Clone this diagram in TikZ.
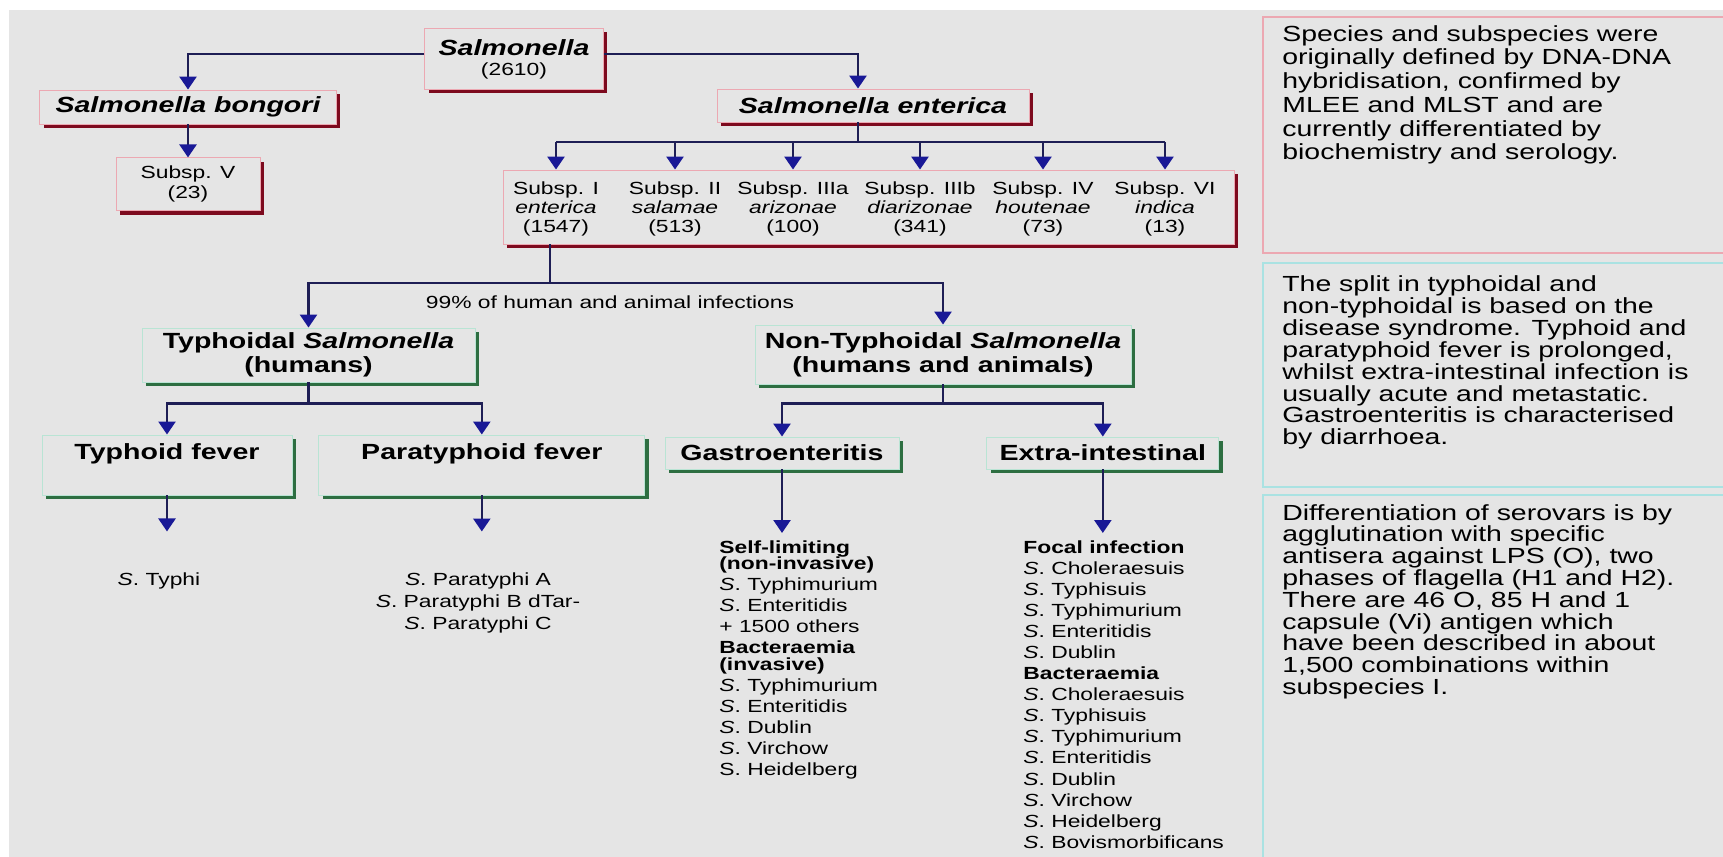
\documentclass[tikz,border=0pt]{standalone}
\usepackage{fontspec}
\setmainfont{Liberation Sans}[FakeStretch=1.3]
\usetikzlibrary{arrows.meta,positioning,shadows}
\definecolor{bggrey}{RGB}{229,229,229}
\definecolor{pinkline}{RGB}{236,168,178}
\definecolor{redshade}{RGB}{125,10,30}
\definecolor{greenline}{RGB}{185,228,212}
\definecolor{greenshade}{RGB}{45,110,65}
\definecolor{cyanline}{RGB}{170,226,226}
\definecolor{linenavy}{RGB}{30,30,85}
\definecolor{tipblue}{RGB}{25,25,150}
\tikzset{
    taxonbox/.style={draw=pinkline, line width=0.5pt, fill=bggrey, align=center, inner sep=0pt, drop shadow={shadow xshift=0.08cm, shadow yshift=-0.08cm, fill=redshade, opacity=1}},
    groupbox/.style={draw=greenline, line width=0.5pt, fill=bggrey, align=center, inner sep=0pt, font=\fontsize{12.5}{13.6}\selectfont\bfseries, drop shadow={shadow xshift=0.08cm, shadow yshift=-0.08cm, fill=greenshade, opacity=1}},
    feverbox/.style={groupbox, text height=9.5pt, text depth=15.3pt, inner ysep=4.7pt},
    headfont/.style={font=\fontsize{12.5}{14}\selectfont\bfseries\itshape},
    treeline/.style={draw=linenavy, line width=1.45pt},
    treearrow/.style={treeline, -{Triangle[width=0.34cm, length=0.26cm, color=tipblue]}},
    listtext/.style={align=left, inner sep=0pt, anchor=north west, font=\fontsize{10}{12}\selectfont},
    notetext/.style={align=left, inner sep=0pt, anchor=north west}
}
\begin{document}
\begin{tikzpicture}[x=0.02cm, y=-0.02cm]
    \useasboundingbox (0,0) rectangle (1723,857);
    \fill[white] (0,0) rectangle (1723,857);
    \fill[bggrey] (9,10) rectangle (1723,857);

    \node[taxonbox, minimum width=3.58cm, minimum height=1.22cm, font=\fontsize{10}{11.4}\selectfont] (salm) at (514,59) {{\fontsize{12.5}{11.4}\selectfont\bfseries\itshape Salmonella}\\(2610)};
    \node[taxonbox, headfont, minimum width=5.94cm, minimum height=0.68cm] (bongori) at (188,107) {Salmonella bongori};
    \node[taxonbox, minimum width=2.88cm, minimum height=1.06cm, font=\fontsize{10}{11.4}\selectfont, below=0.66cm of bongori] (subspV) {Subsp. V\\(23)};
    \node[taxonbox, headfont, minimum width=6.24cm, minimum height=0.66cm] (entr) at (873,105.5) {Salmonella enterica};
    \node[taxonbox, minimum width=14.62cm, minimum height=1.48cm] (subrow) at (868.5,207) {};
    \foreach \cx/\cid/\cnum/\cepi/\ccount in {556/1/I/enterica/1547, 675/2/II/salamae/513, 793/3/IIIa/arizonae/100, 920/4/IIIb/diarizonae/341, 1043/5/IV/houtenae/73, 1165/6/VI/indica/13}
        \node[font=\fontsize{10}{10.8}\selectfont, align=center, inner sep=0pt] (sub\cid) at (\cx,209) {Subsp. \cnum\\\textit{\cepi}\\(\ccount)};

    \node[groupbox, minimum width=6.66cm, minimum height=1.08cm] (typh) at (308.5,355) {Typhoidal \textit{Salmonella}\\(humans)};
    \node[groupbox, minimum width=7.52cm, minimum height=1.18cm] (nontyph) at (943,354.5) {Non-Typhoidal \textit{Salmonella}\\(humans and animals)};
    \node[font=\fontsize{10}{12}\selectfont] (share) at (610,302) {99\% of human and animal infections};

    \node[feverbox, minimum width=5cm, minimum height=1.2cm] (typhoid) at (167,465) {Typhoid fever};
    \node[feverbox, minimum width=6.52cm, minimum height=1.2cm, right=0.52cm of typhoid] (paratyphoid) {Paratyphoid fever};
    \node[groupbox, minimum width=4.68cm, minimum height=0.64cm] (gastro) at (782,453) {Gastroenteritis};
    \node[groupbox, minimum width=4.64cm, minimum height=0.64cm, right=1.74cm of gastro] (extra) {Extra-intestinal};

    \node[font=\fontsize{10}{12}\selectfont, inner sep=0pt] (typhilist) at (159,581) {\textit{S}. Typhi};
    \node[align=center, font=\fontsize{10}{12.5}\selectfont, inner sep=0pt] (paralist) at (478,603) {\textit{S}. Paratyphi A\\\textit{S}. Paratyphi B dTar-\\\textit{S}. Paratyphi C};
    \node[listtext] (gastrolist) at (719,540) {\textbf{Self-limiting}\\[-2.6pt]\textbf{(non-invasive)}\\\textit{S}. Typhimurium\\\textit{S}. Enteritidis\\+ 1500 others\\\textbf{Bacteraemia}\\[-2.6pt]\textbf{(invasive)}\\\textit{S}. Typhimurium\\\textit{S}. Enteritidis\\\textit{S}. Dublin\\\textit{S}. Virchow\\S. Heidelberg};
    \node[listtext] (extralist) at (1023,540) {\textbf{Focal infection}\\\textit{S}. Choleraesuis\\\textit{S}. Typhisuis\\\textit{S}. Typhimurium\\\textit{S}. Enteritidis\\\textit{S}. Dublin\\\textbf{Bacteraemia}\\\textit{S}. Choleraesuis\\\textit{S}. Typhisuis\\\textit{S}. Typhimurium\\\textit{S}. Enteritidis\\\textit{S}. Dublin\\\textit{S}. Virchow\\\textit{S}. Heidelberg\\\textit{S}. Bovismorbificans};

    \coordinate (entbus) at (858,142);
    \coordinate (splitbus) at (550,283);
    \path (typh.south) ++(0,21) coordinate (typhbus);
    \path (nontyph.south) ++(0,19) coordinate (nontyphbus);

    \draw[treearrow] ([yshift=0.1cm]salm.west) -| (bongori.north);
    \draw[treearrow] ([yshift=0.1cm]salm.east) -| (entr.north -| entbus);
    \draw[treearrow] (bongori) -- (subspV);
    \draw[treeline] (entr.south -| entbus) -- (entbus);
    \draw[treeline] (entbus -| sub1) -- (entbus -| sub6);
    \foreach \cid in {1,...,6}
        \draw[treearrow] (entbus -| sub\cid) -- (sub\cid |- subrow.north);
    \draw[treeline] (subrow.south -| splitbus) -- (splitbus);
    \draw[treearrow] (splitbus) -| (typh.north);
    \draw[treearrow] (splitbus) -| (nontyph.north);
    \draw[treeline] (typh.south) -- (typhbus);
    \draw[treearrow] (typhbus) -| (typhoid.north);
    \draw[treearrow] (typhbus) -| (paratyphoid.north);
    \draw[treeline] (nontyph.south) -- (nontyphbus);
    \draw[treearrow] (nontyphbus) -| (gastro.north);
    \draw[treearrow] (nontyphbus) -| (extra.north);
    \draw[treearrow, shorten >=0.82cm] (typhoid.south) -- (typhoid.south |- typhilist.north);
    \draw[treearrow, shorten >=0.82cm] (paratyphoid.south) -- (paratyphoid.south |- paralist.north);
    \draw[treearrow, shorten >=0.14cm] (gastro.south) -- (gastro.south |- gastrolist.north);
    \draw[treearrow, shorten >=0.14cm] (extra.south) -- (extra.south |- extralist.north);

    \draw[pinkline, line width=0.6pt] (1723,17) -| (1263,253) -- (1723,253);
    \draw[cyanline, line width=0.6pt] (1723,263) -| (1263,487) -- (1723,487);
    \draw[cyanline, line width=0.6pt] (1723,495) -| (1263,857);
    \node[notetext, font=\fontsize{12.45}{13.5}\selectfont] (notespecies) at (1282,25) {Species and subspecies were\\originally defined by DNA-DNA\\hybridisation, confirmed by\\MLEE and MLST and are\\currently differentiated by\\biochemistry and serology.};
    \node[notetext, font=\fontsize{12.45}{12.5}\selectfont] (notesplit) at (1282,275) {The split in typhoidal and\\non-typhoidal is based on the\\disease syndrome. Typhoid and\\paratyphoid fever is prolonged,\\whilst extra-intestinal infection is\\usually acute and metastatic.\\Gastroenteritis is characterised\\by diarrhoea.};
    \node[notetext, font=\fontsize{12.45}{12.4}\selectfont] (noteserovar) at (1282,504) {Differentiation of serovars is by\\agglutination with specific\\antisera against LPS (O), two\\phases of flagella (H1 and H2).\\There are 46 O, 85 H and 1\\capsule (Vi) antigen which\\have been described in about\\1,500 combinations within\\subspecies I.};
\end{tikzpicture}
\end{document}
